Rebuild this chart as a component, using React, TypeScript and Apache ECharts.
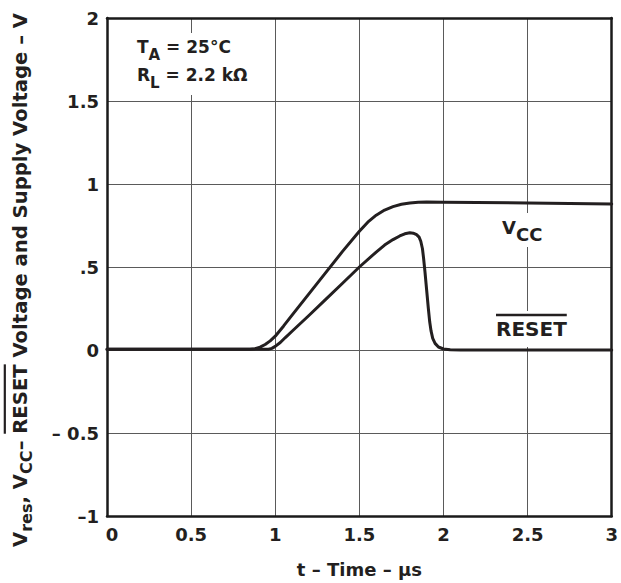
import React, { useEffect, useRef } from "react";
import * as echarts from "echarts";

// ---- data ----
const vccT = [0, 0.85, 0.88, 0.91, 0.94, 0.97, 1.0, 1.05, 1.1, 1.2, 1.3, 1.4, 1.5, 1.55, 1.6, 1.65, 1.7, 1.75, 1.8, 1.85, 1.9, 2.0, 2.5, 3.0];
const vccV = [0.005, 0.005, 0.008, 0.017, 0.033, 0.055, 0.083, 0.145, 0.21, 0.338, 0.466, 0.594, 0.715, 0.77, 0.812, 0.843, 0.864, 0.878, 0.886, 0.89, 0.891, 0.89, 0.886, 0.88];

const resetT = [0, 0.96, 0.98, 1.0, 1.03, 1.06, 1.1, 1.2, 1.3, 1.4, 1.5, 1.6, 1.65, 1.7, 1.74, 1.77, 1.8, 1.82, 1.84, 1.855, 1.865, 1.875, 1.882, 1.89, 1.9, 1.91, 1.918, 1.926, 1.936, 1.95, 1.97, 2.0, 2.04, 2.1, 3.0];
const resetV = [0.005, 0.005, 0.01, 0.022, 0.045, 0.075, 0.113, 0.208, 0.305, 0.402, 0.5, 0.59, 0.632, 0.665, 0.687, 0.7, 0.706, 0.704, 0.695, 0.68, 0.655, 0.61, 0.55, 0.47, 0.36, 0.25, 0.17, 0.115, 0.07, 0.04, 0.018, 0.006, 0.001, 0, 0];

const xTickLabels = ["0", "0.5", "1", "1.5", "2", "2.5", "3"];
const yTickValues = [-1, -0.5, 0, 0.5, 1, 1.5, 2];
const yTickLabels = ["\u20131", "\u2013 0.5", "0", ".5", "1", "1.5", "2"];

const FONT = '"DejaVu Sans"';
const INK = "#231f20";

type Seg = { t: string; sub?: boolean; over?: boolean };

let ctx: CanvasRenderingContext2D | null = null;
function measure(text: string, size: number): number {
  if (!ctx) ctx = document.createElement("canvas").getContext("2d");
  if (!ctx) return text.length * size * 0.6;
  ctx.font = `bold ${size}px ${FONT}`;
  return ctx.measureText(text).width;
}

function layoutRun(
  segs: Seg[],
  size: number,
  subSize: number,
  subDy: number,
  overDy: number,
  overWidth: number
) {
  const children: any[] = [];
  let cx = 0;
  segs.forEach((s) => {
    const sz = s.sub ? subSize : size;
    const w = measure(s.t, sz);
    children.push({
      type: "text",
      x: cx,
      y: s.sub ? subDy : 0,
      z: 10,
      style: {
        text: s.t,
        font: `bold ${sz}px ${FONT}`,
        fill: INK,
        align: "left",
        verticalAlign: "middle",
        textAlign: "left",
        textVerticalAlign: "middle",
      },
    });
    if (s.over) {
      children.push({
        type: "line",
        z: 10,
        shape: { x1: cx, y1: -overDy, x2: cx + w, y2: -overDy },
        style: { stroke: INK, lineWidth: overWidth },
      });
    }
    cx += w;
  });
  return { children, width: cx };
}

export default function App() {
  const ref = useRef<HTMLDivElement>(null);

  useEffect(() => {
    if (!ref.current) return;
    const chart = echarts.init(ref.current, null, { renderer: "svg" });

    const ySegs: Seg[] = [
      { t: "V" },
      { t: "res", sub: true },
      { t: ", V" },
      { t: "CC", sub: true },
      { t: "\u2013 " },
      { t: "RESET", over: true },
      { t: " Voltage and Supply Voltage \u2013 V" },
    ];
    const baseS = 19;
    const probe = layoutRun(ySegs, baseS, baseS * 0.82, 0, 0, 2).width;
    const S = (baseS * 534) / probe;
    const yTitle = layoutRun(ySegs, S, S * 0.82, S * 0.32, S * 0.8, 2.2);

    const ta = layoutRun([{ t: "T" }, { t: "A", sub: true }, { t: " = 25\u00b0C" }], 17, 15, 8, 0, 2);
    const rl = layoutRun([{ t: "R" }, { t: "L", sub: true }, { t: " = 2.2 k\u03a9" }], 17, 15, 8, 0, 2);
    const vcc = layoutRun([{ t: "V" }, { t: "CC", sub: true }], 18, 18, 7, 0, 2);
    const rst = layoutRun([{ t: "RESET", over: true }], 20, 20, 0, 14, 2.5);

    const axisLineStyle = { color: "#1a1a1a", width: 2.5 };
    const splitStyle = { color: "#5a5a5a", width: 1 };
    const labelStyle = {
      fontFamily: FONT,
      fontWeight: "bold" as const,
      fontSize: 18,
      color: INK,
    };

    chart.setOption({
      animation: false,
      backgroundColor: "#ffffff",
      grid: { left: 107, right: 9, top: 18, bottom: 63 },
      xAxis: [
        {
          type: "value",
          min: 0,
          max: 3,
          interval: 0.5,
          position: "bottom",
          axisLine: { show: true, onZero: false, lineStyle: axisLineStyle },
          axisTick: { show: false },
          splitLine: { show: true, lineStyle: splitStyle },
          axisLabel: {
            ...labelStyle,
            margin: 9,
            formatter: (v: number) => {
              const i = Math.round(v / 0.5);
              return i === 0 ? "{a|" + xTickLabels[0] + "}" : xTickLabels[i];
            },
            rich: {
              a: { ...labelStyle, padding: [0, 0, 0, 10] },
            },
          },
          name: "t \u2013 Time \u2013 \u03bcs",
          nameLocation: "middle",
          nameGap: 44,
          nameTextStyle: { ...labelStyle, fontSize: 18 },
        },
        {
          type: "value",
          min: 0,
          max: 3,
          interval: 0.5,
          position: "top",
          axisLine: { show: true, onZero: false, lineStyle: axisLineStyle },
          axisTick: { show: false },
          axisLabel: { show: false },
          splitLine: { show: false },
        },
      ],
      yAxis: [
        {
          type: "value",
          min: -1,
          max: 2,
          interval: 0.5,
          position: "left",
          axisLine: { show: true, onZero: false, lineStyle: axisLineStyle },
          axisTick: { show: false },
          splitLine: { show: true, lineStyle: splitStyle },
          axisLabel: {
            ...labelStyle,
            margin: 8,
            formatter: (v: number) => {
              const i = yTickValues.findIndex((t) => Math.abs(t - v) < 1e-6);
              return i >= 0 ? yTickLabels[i] : "";
            },
          },
        },
        {
          type: "value",
          min: -1,
          max: 2,
          interval: 0.5,
          position: "right",
          axisLine: { show: true, onZero: false, lineStyle: axisLineStyle },
          axisTick: { show: false },
          axisLabel: { show: false },
          splitLine: { show: false },
        },
      ],
      series: [
        {
          name: "VCC",
          type: "line",
          xAxisIndex: 0,
          yAxisIndex: 0,
          data: vccT.map((t, i) => [t, vccV[i]]),
          symbol: "none",
          smooth: false,
          lineStyle: { color: INK, width: 3, join: "round", cap: "round" },
          z: 3,
        },
        {
          name: "RESET",
          type: "line",
          xAxisIndex: 0,
          yAxisIndex: 0,
          data: resetT.map((t, i) => [t, resetV[i]]),
          symbol: "none",
          smooth: false,
          lineStyle: { color: INK, width: 3, join: "round", cap: "round" },
          z: 3,
        },
      ],
      graphic: [
        { type: "rect", z: 5, shape: { x: 130, y: 33, width: 130, height: 62 }, style: { fill: "#ffffff" } },
        { type: "rect", z: 5, shape: { x: 495, y: 213, width: 60, height: 34 }, style: { fill: "#ffffff" } },
        { type: "rect", z: 5, shape: { x: 490, y: 311, width: 82, height: 36 }, style: { fill: "#ffffff" } },
        { type: "group", x: 20.5, y: 547, rotation: Math.PI / 2, z: 10, children: yTitle.children },
        { type: "group", x: 137, y: 47, z: 10, children: ta.children },
        { type: "group", x: 137, y: 75, z: 10, children: rl.children },
        { type: "group", x: 502, y: 227, z: 10, children: vcc.children },
        { type: "group", x: 496, y: 329, z: 10, children: rst.children },
      ],
    });

    return () => chart.dispose();
  }, []);

  return (
    <div
      ref={ref}
      style={{ position: "fixed", left: 0, top: 0, width: 621, height: 583, background: "#fff" }}
    />
  );
}
